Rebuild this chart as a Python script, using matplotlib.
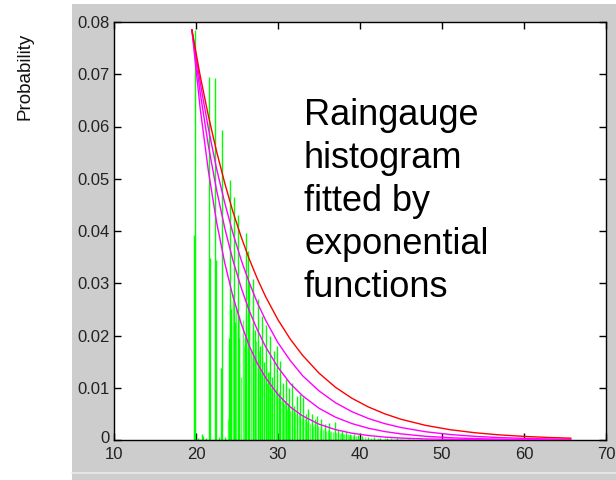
import matplotlib
matplotlib.use("Agg")
import matplotlib.pyplot as plt
from matplotlib.patches import Rectangle
from matplotlib.lines import Line2D
from matplotlib.transforms import ScaledTranslation

plt.rcParams['font.family'] = ['Liberation Sans', 'DejaVu Sans']

# ---------------- data ----------------
# tall isolated histogram spikes (x, probability)
spike_x = [19.75, 19.85, 20.3, 20.7, 20.9, 21.2, 21.6, 21.7, 22.3, 22.4, 22.8,
           23.05, 23.15, 23.5, 24.05, 24.15, 24.25, 24.65, 24.75, 25.15, 25.25,
           26.0, 26.1, 26.3, 26.45, 26.95, 27.2, 27.5, 27.75, 28.05, 28.3,
           28.55, 28.8, 29.0, 29.25, 29.5, 29.85, 30.1, 30.3, 30.55, 30.95,
           31.2, 31.4, 31.7, 32.0, 32.3, 32.7, 33.1, 33.4, 33.7, 34.2, 34.5,
           34.8, 35.3, 35.7, 36.2, 36.9, 37.3, 37.8, 38.3, 38.8, 39.3, 39.8,
           40.3, 41.0, 41.7, 42.5, 43.3, 44.5, 46.0, 47.5]
spike_y = [0.0392, 0.0785, 0.0004, 0.0012, 0.0008, 0.0003, 0.0695, 0.0348,
           0.0692, 0.0345, 0.0005, 0.0137, 0.0593, 0.0006, 0.0195, 0.0498,
           0.0250, 0.0466, 0.0226, 0.0431, 0.0195, 0.0197, 0.0396, 0.0362,
           0.0300, 0.0308, 0.0210, 0.0270, 0.0180, 0.0238, 0.0150, 0.0220,
           0.0130, 0.0200, 0.0120, 0.0170, 0.0180, 0.0090, 0.0152, 0.0110,
           0.0117, 0.0070, 0.0100, 0.0110, 0.0065, 0.0085, 0.0088, 0.0082,
           0.0050, 0.0060, 0.0050, 0.0040, 0.0045, 0.0040, 0.0030, 0.0032,
           0.0035, 0.0020, 0.0018, 0.0015, 0.0012, 0.0012, 0.0009, 0.0008,
           0.0006, 0.0005, 0.0004, 0.0003, 0.0003, 0.0002, 0.0001]

# dense part of the histogram (x, probability)
dense_x = [23.9, 24.1, 24.3, 24.5, 24.7, 24.9, 25.1, 25.3, 25.5, 25.7, 25.9,
           26.1, 26.3, 26.5, 26.7, 26.9, 27.1, 27.3, 27.5, 27.7, 27.9, 28.1,
           28.3, 28.5, 28.7, 28.9, 29.1, 29.3, 29.5, 29.7, 29.9, 30.1, 30.3,
           30.5, 30.7, 30.9, 31.1, 31.3, 31.5, 31.7, 31.9, 32.1, 32.3, 32.5,
           32.7, 32.9, 33.1, 33.3, 33.5, 33.7, 33.9, 34.1, 34.3, 34.5, 34.7,
           34.9, 35.1, 35.3, 35.5, 35.7, 35.9, 36.1, 36.3, 36.5, 36.7, 36.9,
           37.1, 37.3, 37.5, 37.7, 37.9, 38.1, 38.3, 38.5, 38.7, 38.9, 39.1,
           39.3, 39.5, 39.7, 39.9, 40.6, 41.4, 42.2, 43.0, 43.8, 45.0, 46.5,
           48.0]
dense_y = [0.0040, 0.0260, 0.0220, 0.0280, 0.0190, 0.0250, 0.0210, 0.0240,
           0.0120, 0.0230, 0.0180, 0.0240, 0.0200, 0.0220, 0.0170, 0.0210,
           0.0160, 0.0190, 0.0140, 0.0170, 0.0130, 0.0160, 0.0120, 0.0140,
           0.0110, 0.0130, 0.0100, 0.0110, 0.0090, 0.0100, 0.0085, 0.0092,
           0.0075, 0.0082, 0.0068, 0.0074, 0.0060, 0.0066, 0.0055, 0.0060,
           0.0050, 0.0054, 0.0045, 0.0049, 0.0041, 0.0044, 0.0037, 0.0040,
           0.0033, 0.0036, 0.0030, 0.0032, 0.0027, 0.0030, 0.0025, 0.0027,
           0.0022, 0.0024, 0.0020, 0.0022, 0.0018, 0.0020, 0.0016, 0.0018,
           0.0015, 0.0016, 0.0013, 0.0015, 0.0012, 0.0013, 0.0011, 0.0012,
           0.0010, 0.0011, 0.0009, 0.0010, 0.0008, 0.0009, 0.0007, 0.0008,
           0.0006, 0.0005, 0.0004, 0.0004, 0.0003, 0.0003, 0.0002, 0.0002,
           0.0001]

# fitted exponential curves
curve_x = [19.5, 20.5, 21.5, 22.5, 23.5, 24.5, 25.5, 26.5, 27.5, 28.5, 30.0,
           31.5, 33.0, 35.0, 37.0, 39.0, 41.0, 43.0, 45.0, 48.0, 51.0, 54.0,
           57.0, 60.0, 63.0, 65.7]
red_y = [0.0785, 0.0698, 0.0621, 0.0553, 0.0492, 0.0437, 0.0389, 0.0346,
         0.0308, 0.0274, 0.0230, 0.0193, 0.0162, 0.0128, 0.0101, 0.0080,
         0.00634, 0.00502, 0.00397, 0.00280, 0.00197, 0.00139, 0.00098,
         0.00069, 0.00048, 0.00035]
mag1_y = [0.0785, 0.0685, 0.0597, 0.0520, 0.0454, 0.0396, 0.0345, 0.0301,
          0.0262, 0.0229, 0.0186, 0.0152, 0.0123, 0.0094, 0.00714, 0.00543,
          0.00413, 0.00314, 0.00239, 0.00158, 0.00105, 0.00070, 0.00046,
          0.00031, 0.00020, 0.00014]
mag2_y = [0.0785, 0.0666, 0.0564, 0.0479, 0.0406, 0.0344, 0.0292, 0.0247,
          0.0210, 0.0178, 0.0139, 0.0108, 0.00846, 0.00608, 0.00437, 0.00315,
          0.00226, 0.00162, 0.00117, 0.00071, 0.00043, 0.00026, 0.00016,
          0.00010, 0.00006, 0.00004]
mag3_y = [0.0785, 0.0636, 0.0516, 0.0418, 0.0339, 0.0275, 0.0223, 0.0180,
          0.0146, 0.0119, 0.00866, 0.00632, 0.00461, 0.00303, 0.00199,
          0.00131, 0.00086, 0.00056, 0.00037, 0.00020, 0.00011, 0.00006,
          0.00003, 0.00002, 0.00001, 0.0]

x_ticks = [10, 20, 30, 40, 50, 60, 70]
y_ticks = [0, 0.01, 0.02, 0.03, 0.04, 0.05, 0.06, 0.07, 0.08]
y_tick_labels = ['0', '0.01', '0.02', '0.03', '0.04', '0.05', '0.06', '0.07', '0.08']
y_label = 'Probability'
note = 'Raingauge\nhistogram\nfitted by\nexponential\nfunctions'

# ---------------- figure ----------------
W, H = 616, 480
fig = plt.figure(figsize=(W / 100, H / 100), dpi=100, facecolor='white')
fig.patches.append(Rectangle((72 / W, 0), 1 - 72 / W, 1 - 4 / H,
                             transform=fig.transFigure, facecolor='#cdcdcd',
                             edgecolor='none', zorder=-10))
fig.lines.append(Line2D([72 / W, 1], [1 - 473 / H, 1 - 473 / H],
                        transform=fig.transFigure, color='#eaeaea', lw=1.2,
                        zorder=-9))

ax = fig.add_axes([114 / W, 40 / H, 492 / W, 418 / H])
ax.set_zorder(1)
ax.set_facecolor('white')

ax.vlines(dense_x, 0, dense_y, colors='#55ff55', linewidth=1.0, zorder=2)
ax.vlines(spike_x, 0, spike_y, colors='#00ff00', linewidth=1.0, zorder=2)
ax.plot([19.7, 48.5], [0.00005, 0.00005], color='#00ff00', lw=1.0, zorder=2)

ax.plot(curve_x, mag3_y, color='#ff00ff', lw=1.0, zorder=3)
ax.plot(curve_x, mag2_y, color='#ff00ff', lw=1.0, zorder=3)
ax.plot(curve_x, mag1_y, color='#ff00ff', lw=1.0, zorder=3)
ax.plot(curve_x, red_y, color='#ff0000', lw=1.0, zorder=4)

ax.set_xlim(10, 70)
ax.set_ylim(0, 0.08)
ax.set_xticks(x_ticks)
ax.set_xticklabels([str(v) for v in x_ticks])
ax.set_yticks(y_ticks)
ax.set_yticklabels(y_tick_labels)
ax.tick_params(direction='in', length=5, width=1, top=True, right=True,
               labelsize=12, labelcolor='#222222')
ax.tick_params(axis='x', pad=5)
ax.tick_params(axis='y', pad=3)
for s in ax.spines.values():
    s.set_linewidth(1.0)
    s.set_color('black')

# lift the "0" label a little, as in the reference
zero_lbl = ax.get_yticklabels()[0]
zero_lbl.set_transform(zero_lbl.get_transform() +
                       ScaledTranslation(0, 3 / 100, fig.dpi_scale_trans))

fig.text(25 / W, 1 - 76 / H, y_label, rotation=90, ha='center', va='center',
         fontsize=13.5, color='#111111')

ax.text(304 / W, 1 - 98 / H, note, transform=fig.transFigure, ha='left',
        va='top', fontsize=26, linespacing=1.3, color='black', zorder=6)

fig.savefig('out.png', dpi=100, facecolor='white')
